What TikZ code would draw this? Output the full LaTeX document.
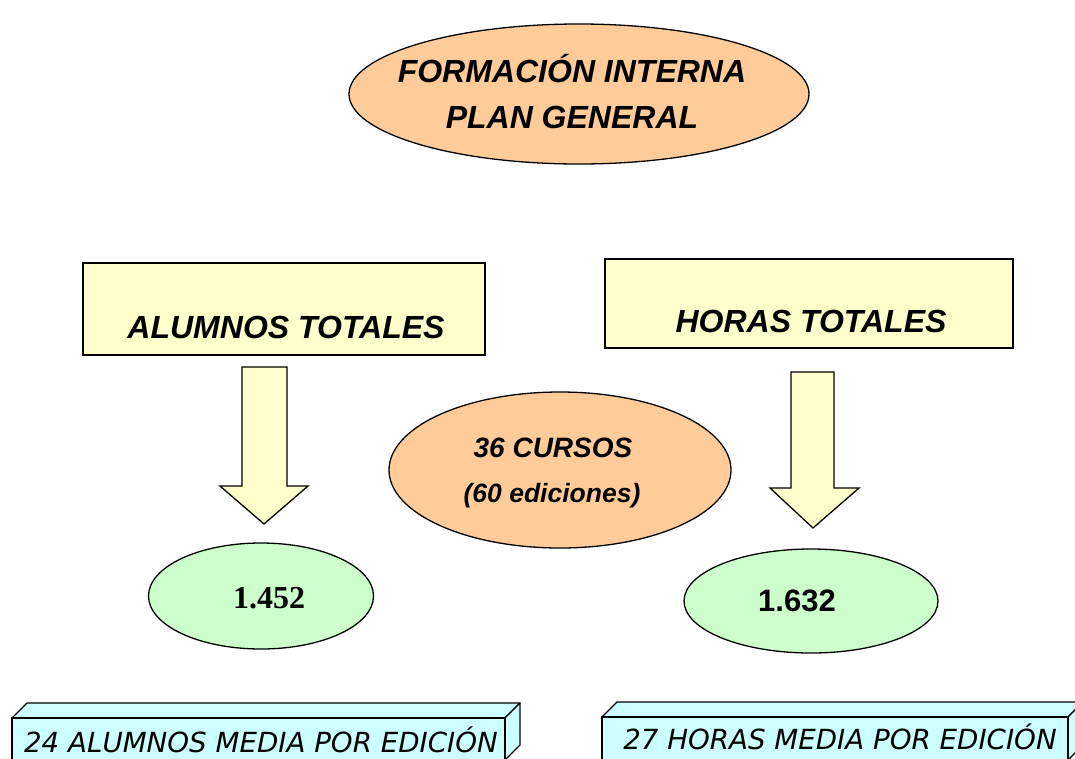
\documentclass[tikz,border=0pt]{standalone}
\usepackage{fontspec}
\setmainfont{Liberation Sans}
\newfontfamily\timesf{Liberation Serif}
\newfontfamily\comicf{DejaVu Sans}
\usetikzlibrary{shapes.geometric}
\definecolor{peach}{HTML}{FFCC99}
\definecolor{paleyel}{HTML}{FFFFCC}
\definecolor{palegreen}{HTML}{CCFFCC}
\definecolor{palecyan}{HTML}{CCFFFF}
\tikzset{
  oval/.style={draw=black, line width=1.3pt, ellipse, inner sep=0pt},
  titlebox/.style={draw=black, line width=1.3pt, fill=paleyel, inner sep=0pt},
  bigarrow/.style={draw=black, line width=1.3pt, fill=paleyel, line join=miter},
  bar/.style={draw=black, line width=1.3pt, fill=palecyan, line join=round},
  maintxt/.style={font=\fontsize{32}{46}\selectfont\bfseries\itshape, align=center},
  bartxt/.style={font=\fontsize{27.7}{30}\selectfont\comicf\itshape},
}
\begin{document}
\begin{tikzpicture}[x=1pt,y=-1pt]
\useasboundingbox (0,0) rectangle (1075,758);
% top ellipse
\node[oval, fill=peach, minimum width=460, minimum height=140] (top) at (579,94) {};
\node[maintxt] (toptxt) at (572,92) {FORMACIÓN INTERNA\\PLAN GENERAL};
% rectangles
\node[titlebox, minimum width=402, minimum height=92] (alum) at (284,309) {};
\node[maintxt] (alumtxt) at (286,327) {ALUMNOS TOTALES};
\node[titlebox, minimum width=408, minimum height=89] (horas) at (809,303.5) {};
\node[maintxt] (horastxt) at (811,321) {HORAS TOTALES};
% arrows
\draw[bigarrow] (242,367) -- (287,367) -- (287,486) -- (308,486) -- (264,524) -- (220,486) -- (242,486) -- cycle;
\draw[bigarrow] (791,372) -- (834,372) -- (834,488) -- (859,488) -- (813,528) -- (770,488) -- (791,488) -- cycle;
% center ellipse
\node[oval, fill=peach, minimum width=342, minimum height=156] (cursos) at (560,470) {};
\node[font=\fontsize{28}{32}\selectfont\bfseries\itshape] (cursostxt) at (553,448) {36 CURSOS};
\node[font=\fontsize{26.5}{30}\selectfont\bfseries\itshape] (edtxt) at (552,496) {(60 ediciones)};
% green ellipses
\node[oval, fill=palegreen, minimum width=225, minimum height=106] (g1) at (261,596) {};
\node[font=\fontsize{32}{36}\selectfont\timesf\bfseries] (g1txt) at (269,598) {1.452};
\node[oval, fill=palegreen, minimum width=254, minimum height=104] (g2) at (811,601) {};
\node[font=\fontsize{31}{36}\selectfont\bfseries] (g2txt) at (797,601) {1.632};
% bottom bars
\draw[bar] (12,718) -- (27,703) -- (520,703) -- (505,718) -- cycle;
\draw[bar] (505,718) -- (520,703) -- (520,745) -- (505,760) -- cycle;
\draw[bar] (12,718) rectangle (505,760);
\node[bartxt] (b1txt) at (261,740) {24 ALUMNOS MEDIA POR EDICIÓN};
\draw[bar] (602,717) -- (617,702) -- (1083,702) -- (1068,717) -- cycle;
\draw[bar] (1068,717) -- (1083,702) -- (1083,745) -- (1068,760) -- cycle;
\draw[bar] (602,717) rectangle (1068,760);
\node[bartxt] (b2txt) at (840,737) {27 HORAS MEDIA POR EDICIÓN};
\end{tikzpicture}
\end{document}
